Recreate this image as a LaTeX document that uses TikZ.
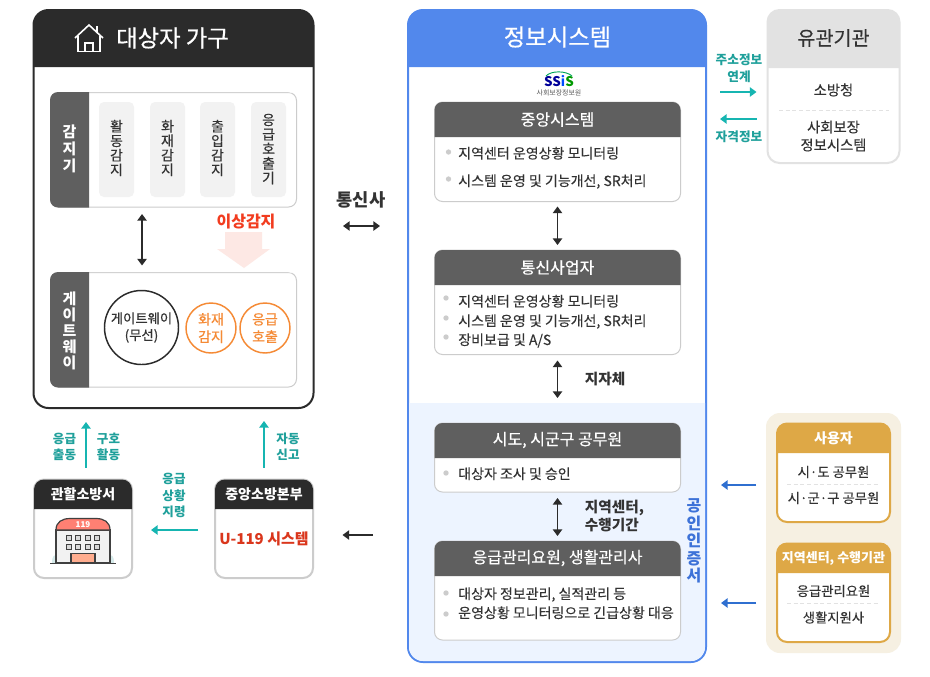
\documentclass[tikz,border=0pt]{standalone}
\usepackage{fontspec}
\setmainfont{Noto Sans CJK KR}
\newfontfamily\medfont[FakeBold=0.5]{Noto Sans CJK KR}
\newfontfamily\bodyfont[FakeBold=0.2]{Noto Sans CJK KR}
\usetikzlibrary{arrows.meta,calc}
\definecolor{ink}{HTML}{2B2B2B}
\definecolor{hdrgray}{HTML}{5F5F5F}
\definecolor{linegray}{HTML}{CCCCCC}
\definecolor{pill}{HTML}{F2F2F2}
\definecolor{txt}{HTML}{333333}
\definecolor{infoblue}{HTML}{5288EC}
\definecolor{paleblue}{HTML}{EDF4FF}
\definecolor{tealarrow}{HTML}{16B5B1}
\definecolor{tealtext}{HTML}{1FA09B}
\definecolor{orangec}{HTML}{F58A35}
\definecolor{redtxt}{HTML}{F23C1F}
\definecolor{pinkarrow}{HTML}{FDE8E4}
\definecolor{orgray}{HTML}{E2E2E2}
\definecolor{beige}{HTML}{F6F0E2}
\definecolor{gold}{HTML}{DEA846}
\definecolor{arrowblue}{HTML}{2F6FD0}
\definecolor{certblue}{HTML}{3D72D8}
\newcommand\fsz[2]{\fontsize{#1}{#2}\selectfont}
% name, x1,y1,x2,y2, header bottom, header colour, border colour, radius
\newcommand\panelbox[9]{%
  \node[draw=#8,fill=white,line width=.75pt*\pbw,rounded corners=#9*.75pt,inner sep=0pt,outer sep=0pt,
        minimum width={(#4-#2)*.75pt},minimum height={(#5-#3)*.75pt}] (#1) at ({(#2+#4)/2},{(#3+#5)/2}) {};
  \fill[#7] (#2,#6) [rounded corners=#9*.75pt] -- (#2,#3) -- (#4,#3) [sharp corners] -- (#4,#6) -- cycle;
}
\newcommand\pbw{1}
\tikzset{
  x=.75pt,y=-.75pt,
  lbl/.style={inner sep=0pt,align=center,text=txt},
  body/.style={lbl,font=\fsz{10.75}{13.5}\bodyfont},
  bodyleft/.style={inner sep=0pt,anchor=base west,text=txt,font=\fsz{10.5}{13}\bodyfont},
  smallbody/.style={lbl,font=\fsz{10}{12}\bodyfont},
  hdrtxt/.style={inner sep=0pt,text=white,font=\fsz{12}{14}\medfont},
  vert/.style={lbl,font=\fsz{10.5}{10.9}\bodyfont},
  vertw/.style={inner sep=0pt,align=center,text=white,font=\fsz{11.25}{12.3}\bfseries},
  tealtxt/.style={inner sep=0pt,align=center,text=tealtext,font=\fsz{9.4}{12.3}\bfseries},
  dbl/.style={{Triangle[length=5pt,width=7pt]}-{Triangle[length=5pt,width=7pt]},line width=1.1pt,draw=ink},
  blk/.style={-{Triangle[length=5pt,width=7pt]},line width=1.1pt,draw=ink},
  tealarr/.style={-{Triangle[length=5pt,width=7pt]},line width=1.5pt,draw=tealarrow},
  bluearr/.style={-{Triangle[length=5pt,width=7pt]},line width=1.5pt,draw=arrowblue},
  gap/.style 2 args={shorten <=#1*.75pt,shorten >=#2*.75pt},
  bullet/.style={circle,fill=linegray,inner sep=0pt,minimum size=4pt},
  dashline/.style={draw=orgray,line width=.6pt,densely dashed},
  pillbox/.style={fill=pill,rounded corners=3.75pt,inner sep=0pt,outer sep=0pt,minimum width=26.25pt,minimum height=71.25pt},
}
\begin{document}
\begin{tikzpicture}
\useasboundingbox (0,0) rectangle (930,676);
\fill[white] (0,0) rectangle (930,676);

%==== left main panel
\renewcommand\pbw{2}
\panelbox{house}{33.5}{10}{313.5}{408}{67}{ink}{ink}{15}
\draw[white,line width=1.2pt] (75,38) -- (89,25) -- (103,38);
\draw[white,line width=.9pt] (78,36) -- (78,51.5) -- (100,51.5) -- (100,36);
\draw[white,line width=.8pt] (85,51.5) -- (85,43) -- (93,43) -- (93,51.5);
\draw[white,line width=1pt] (97,26) -- (97,32);
\node[inner sep=0pt,text=white,font=\fsz{17.5}{20}\medfont] (housetitle) at (172.5,38) {대상자 가구};

\renewcommand\pbw{1}
\panelbox{sensor}{50.5}{92.5}{296.5}{207}{92.5}{white}{linegray}{8}
\fill[hdrgray] (89,92) [rounded corners=6pt] -- (50,92) -- (50,207.5) [sharp corners] -- (89,207.5) -- cycle;
\node[vertw,font=\fsz{11.25}{12.8}\bfseries] (sensorlbl) at (69.5,148.5) {감\\지\\기};
\node[pillbox] (p1) at (116.5,149.5) {};
\node[pillbox] (p2) at (167.5,149.5) {};
\node[pillbox] (p3) at (217.5,149.5) {};
\node[pillbox] (p4) at (268.5,149.5) {};
\node[vert] (v1) at (116.5,148) {활\\동\\감\\지};
\node[vert] (v2) at (167.5,148) {화\\재\\감\\지};
\node[vert] (v3) at (217.5,148) {출\\입\\감\\지};
\node[vert] (v4) at (268.5,149) {응\\급\\호\\출\\기};

\node[inner sep=0pt,text=redtxt,font=\fsz{12}{15}\bfseries] (detect) at (246,222) {이상감지};

\panelbox{gw}{50.5}{272.5}{296.5}{387}{272.5}{white}{linegray}{8}
\fill[pinkarrow] (225,232) -- (262,232) -- (262,249) -- (270,249) -- (244,268) -- (217,249) -- (225,249) -- cycle;
\fill[hdrgray] (89,272) [rounded corners=6pt] -- (50,272) -- (50,387.5) [sharp corners] -- (89,387.5) -- cycle;
\node[vertw,font=\fsz{11.25}{12}\bfseries] (gwlbl) at (69.5,330.5) {게\\이\\트\\웨\\이};
\node[circle,draw=ink,line width=1.1pt,minimum size=55.5pt,inner sep=0pt,align=center,text=txt,font=\fsz{10}{12.5}\medfont] (gwc) at (141.5,327.5) {게이트웨이\\(무선)};
\node[circle,draw=orangec,line width=1.1pt,minimum size=37.5pt,inner sep=0pt,align=center,text=orangec,font=\fsz{10.5}{13}\medfont] (c1) at (211,328) {화재\\감지};
\node[circle,draw=orangec,line width=1.1pt,minimum size=37.5pt,inner sep=0pt,align=center,text=orangec,font=\fsz{10.5}{13}\medfont] (c2) at (265,328) {응급\\호출};
\draw[dbl,gap={7}{7}] ([xshift=-23.6pt]sensor.south) -- ([xshift=-23.6pt]gw.north);

%==== bottom-left
\renewcommand\pbw{2}
\panelbox{fire}{34}{479.5}{132}{578}{509}{ink}{linegray}{10}
\panelbox{hq}{215}{479.5}{313}{578}{509}{ink}{linegray}{10}
\node[hdrtxt,font=\fsz{10.5}{13}\bfseries] (firet) at (83,494) {관할소방서};
\node[hdrtxt,font=\fsz{10.5}{13}\bfseries] (hqt) at (264,494) {중앙소방본부};
\node[inner sep=0pt,text=redtxt!90!black,font=\fsz{11.25}{14}\bfseries] (u119) at (264,539) {U-119 시스템};
% building icon
\fill[fill=white!60!teal!40] (52,563) .. controls (52,556) and (54,555) .. (57,555) -- (57,563) -- cycle;
\fill[fill=white!60!teal!40] (114,563) .. controls (114,556) and (112,555) .. (109,555) -- (109,563) -- cycle;
\draw[line width=.9pt,draw=ink!90,fill=white!90!gray] (56,530) rectangle (110,563);
\draw[line width=.9pt,draw=ink!90,fill=red!50!white!90!orange] (56,530) .. controls (56,522) and (62,518.5) .. (70,518.5) -- (96,518.5) .. controls (104,518.5) and (110,522) .. (110,530) -- cycle;
\node[inner sep=0pt,text=white,font=\fsz{6}{7}\bfseries] (n119) at (83,525) {119};
\foreach \xx in {69,78,88,97} \foreach \yy in {538,547}
  \draw[line width=1.1pt,draw=ink!90,fill=white!70!gray] (\xx-2.5,\yy-2.5) rectangle (\xx+2.5,\yy+2.5);
\draw[line width=.9pt,draw=ink!90,fill=orange!30!white!80!red] (71,553.5) rectangle (95,563);
\draw[line width=1.1pt,draw=ink!90] (50,563.5) -- (116,563.5);

\coordinate (upa) at (86,422);
\coordinate (upb) at (264,421);
\coordinate (lefty) at (0,530);
\coordinate (blacky) at (0,535);
\coordinate (teley) at (0,226);
\draw[tealarr,gap={12}{0}] (upa |- fire.north) -- (upa);
\draw[tealarr,gap={12}{0}] (upb |- hq.north) -- (upb);
\draw[tealarr,gap={17}{19}] (hq.west |- lefty) -- (fire.east |- lefty);
\node[tealtxt] (t1) at (64.5,447) {응급\\출동};
\node[tealtxt] (t2) at (108.5,447) {구호\\활동};
\node[tealtxt] (t3) at (288,447) {자동\\신고};
\node[tealtxt] (t4) at (174,495.5) {응급\\상황\\지령};

%==== info panel
\renewcommand\pbw{2}
\panelbox{info}{408}{10}{706}{662}{67}{infoblue}{infoblue}{15}
\fill[paleblue] (409,403) [sharp corners] -- (705,403) [rounded corners=10.5pt] -- (705,661) -- (409,661) [sharp corners] -- cycle;
\node[inner sep=0pt,text=white,font=\fsz{17.5}{20}\medfont] (infot) at (557.5,37) {정보시스템};
\node[inner sep=0pt,font=\fsz{10}{12}\bfseries] (ssis) at (559,81.5)
  {\textcolor{blue!60!black}{SS}\textcolor{blue!70!cyan}{i}\textcolor{green!60!black}{S}};
\draw[line width=.7pt,draw=teal!70!green] (546,76) .. controls (551,70.5) and (566,70.5) .. (572,76);
\node[inner sep=0pt,text=black!65,font=\fsz{5.2}{6}] (ssissub) at (559,93) {사회보장정보원};

\renewcommand\pbw{1}
\panelbox{cs}{434.5}{102}{680.5}{201.5}{137}{hdrgray}{linegray}{8}
\panelbox{tel}{434.5}{250}{680.5}{354.5}{285}{hdrgray}{linegray}{8}
\panelbox{gov}{434.5}{423}{680.5}{492}{458}{hdrgray}{linegray}{8}
\panelbox{care}{434.5}{541}{680.5}{640}{576}{hdrgray}{linegray}{8}
\node[hdrtxt] (cst) at (557.5,119.5) {중앙시스템};
\node[hdrtxt] (telt) at (557.5,267.5) {통신사업자};
\node[hdrtxt] (govt) at (557.5,440) {시도, 시군구 공무원};
\node[hdrtxt] (caret) at (557.5,558) {응급관리요원, 생활관리사};

\node[bullet] (b1) at (448.5,152) {};
\node[bullet] (b2) at (448.5,179) {};
\node[bodyleft] (l1) at (458,158.5) {지역센터 운영상황 모니터링};
\node[bodyleft] (l2) at (458,186) {시스템 운영 및 기능개선, SR처리};
\node[bullet] (b3) at (446,298) {};
\node[bullet] (b4) at (446,318) {};
\node[bullet] (b5) at (446,337) {};
\node[bodyleft] (l3) at (458,306.5) {지역센터 운영상황 모니터링};
\node[bodyleft] (l4) at (458,326) {시스템 운영 및 기능개선, SR처리};
\node[bodyleft] (l5) at (458,345) {장비보급 및 A/S};
\node[bullet] (b6) at (446,473) {};
\node[bodyleft] (l6) at (458,479) {대상자 조사 및 승인};
\node[bullet] (b7) at (446,593) {};
\node[bullet] (b8) at (446,614) {};
\node[bodyleft] (l7) at (458,599) {대상자 정보관리, 실적관리 등};
\node[bodyleft] (l8) at (458,618) {운영상황 모니터링으로 긴급상황 대응};

\draw[dbl,gap={5}{5}] (cs.south) -- (tel.north);
\draw[dbl,gap={6}{25}] (tel.south) -- (gov.north);
\draw[dbl,gap={6}{5}] (gov.south) -- (care.north);
\node[inner sep=0pt,text=txt,font=\fsz{11}{13}\bfseries] (jj) at (605,379) {지자체};
\node[inner sep=0pt,anchor=west,align=left,text=txt,font=\fsz{11}{12.8}\bfseries] (rg) at (584.5,516) {지역센터,\\수행기간};
\node[inner sep=0pt,align=center,text=certblue,font=\fsz{12}{13.1}\bfseries] (cert) at (694,541) {공\\인\\인\\증\\서};

%==== between left and info
\node[inner sep=0pt,text=txt,font=\fsz{13.25}{16}\bfseries] (telco) at (361,200) {통신사};
\draw[dbl,gap={29.5}{28}] (house.east |- teley) -- (info.west |- teley);
\draw[blk,gap={35}{29.5}] (info.west |- blacky) -- (hq.east |- blacky);

%==== related agencies
\renewcommand\pbw{2}
\panelbox{org}{767.5}{10}{899.5}{163}{68}{orgray}{orgray}{12}
\node[inner sep=0pt,text=txt,font=\fsz{14.75}{18}\bodyfont] (orgt) at (833.5,38) {유관기관};
\node[body] (o1) at (833.5,90) {소방청};
\draw[dashline] (779,110) -- (889,110);
\node[body] (o2) at (833.5,136) {사회보장\\정보시스템};
\coordinate (ry) at (0,92);
\coordinate (ly) at (0,119);
\draw[tealarr,gap={14}{11}] (info.east |- ry) -- (org.west |- ry);
\draw[tealarr,gap={11}{14}] (org.west |- ly) -- (info.east |- ly);
\node[tealtxt,font=\fsz{9.5}{12.6}\bfseries] (t5) at (739,68.5) {주소정보\\연계};
\node[tealtxt,font=\fsz{9.5}{12.6}\bfseries] (t6) at (739,137) {자격정보};

%==== users
\fill[beige,rounded corners=10.5pt] (766,413) rectangle (901,653);
\panelbox{user}{777}{423.5}{890}{522}{453}{gold}{gold}{10}
\panelbox{org2}{777}{543.5}{890}{642}{573}{gold}{gold}{10}
\node[hdrtxt,font=\fsz{10.5}{13}\bfseries] (usert) at (833.5,438) {사용자};
\node[hdrtxt,font=\fsz{9.75}{12}\bfseries] (org2t) at (833.5,558) {지역센터, 수행기관};
\node[smallbody] (u1) at (833.5,472) {시·도 공무원};
\draw[dashline] (787,484.5) -- (880,484.5);
\node[smallbody] (u2) at (833.5,498) {시·군·구 공무원};
\node[smallbody] (u3) at (833.5,591) {응급관리요원};
\draw[dashline] (787,603) -- (880,603);
\node[smallbody] (u4) at (833.5,617.5) {생활지원사};
\coordinate (y1) at (0,485);
\coordinate (y2) at (0,603);
\draw[bluearr,gap={21}{15}] (user.west |- y1) -- (info.east |- y1);
\draw[bluearr,gap={21}{15}] (org2.west |- y2) -- (info.east |- y2);
\end{tikzpicture}
\end{document}
